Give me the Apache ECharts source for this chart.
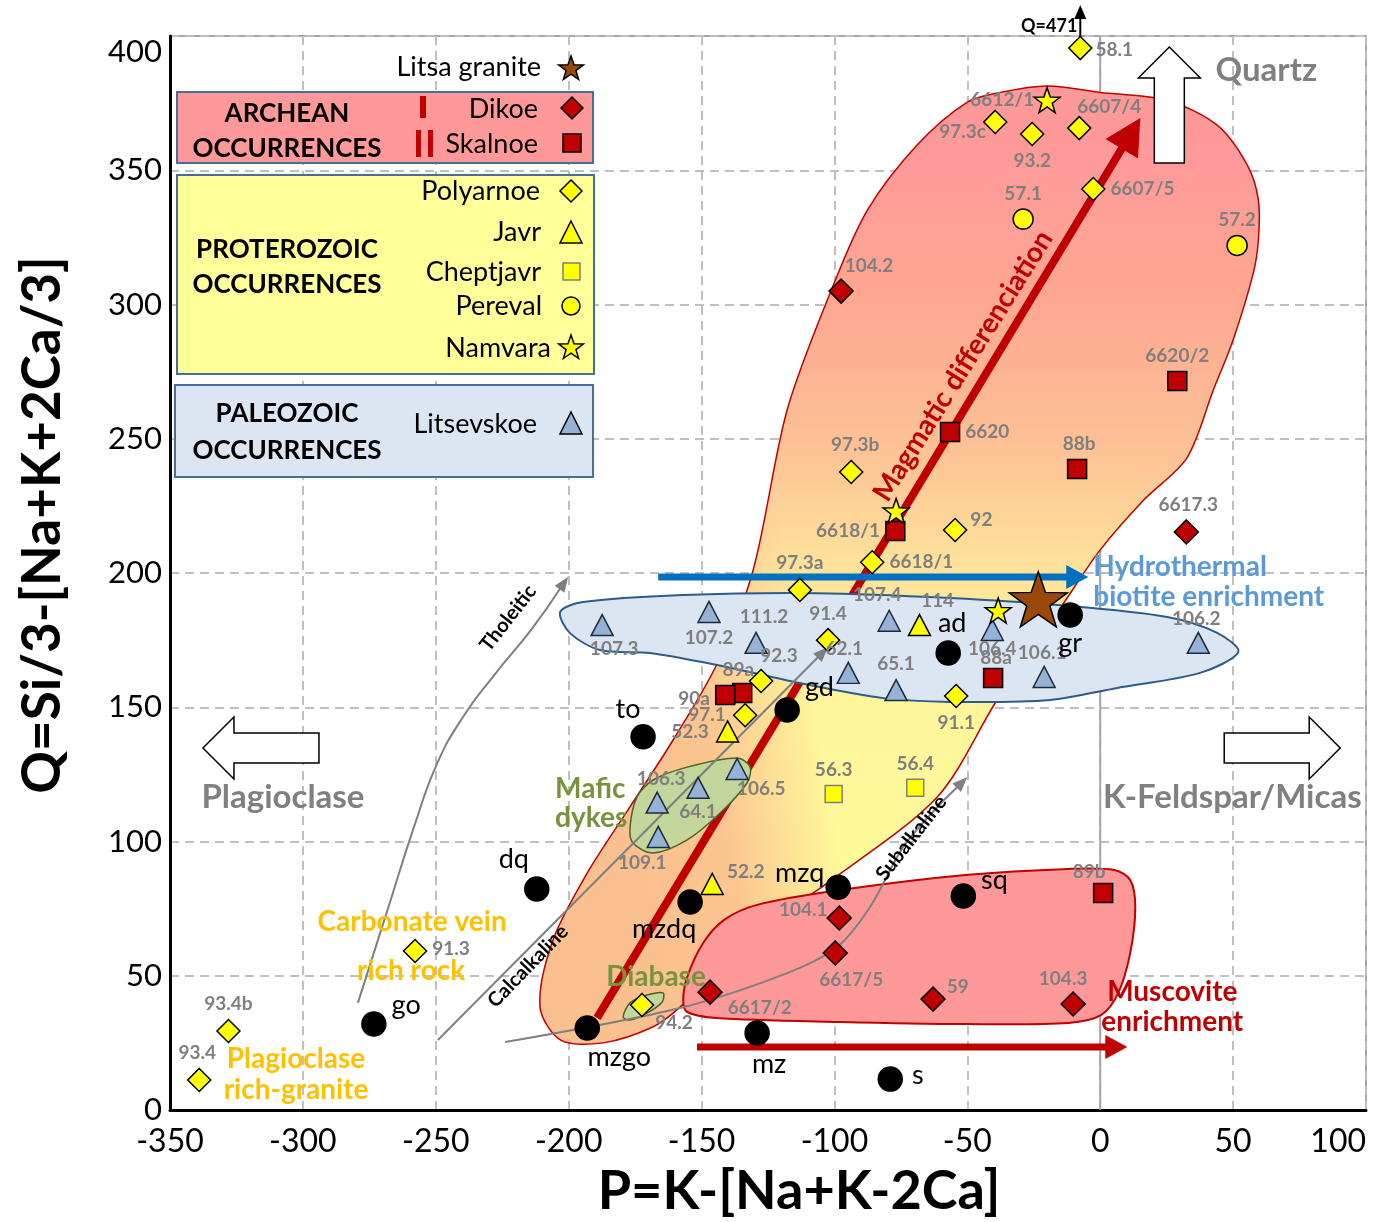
<!DOCTYPE html>
<html>
<head>
<meta charset="utf-8">
<script src="https://cdn.jsdelivr.net/npm/echarts@6/dist/echarts.min.js"></script>
<style>
  html, body { margin: 0; padding: 0; background: #fff; }
  #main { width: 1376px; height: 1222px; }
</style>
</head>
<body>
<div id="main"></div>
<script>
// ---- data: [P, Q, sample] ----
const polyarnoe = [
  [-7.5, 395.5, '58.1'], [-39.5, 368, '97.3c'], [-25.6, 363.5, '93.2'], [-7.9, 365.7, '6607/4'],
  [-2.6, 343, '6607/5'], [-85.8, 204, '6618/1'], [-113, 193.7, '97.3a'], [-93.7, 237.6, '97.3b'],
  [-54.6, 216, '92'], [-102.4, 175, '91.4'], [-127.6, 159.8, '92.3'], [-133.6, 147, '97.1'],
  [-54.2, 154.2, '91.1'], [-257.8, 59.2, '91.3'], [-328, 29.4, '93.4b'], [-339, 11.2, '93.4'],
  [-172.4, 39.1, '94.2']
];
const javr = [[-68, 180.6, '114'], [-140.2, 141, '52.3'], [-146, 84.2, '52.2']];
const cheptjavr = [[-100.3, 117.7, '56.3'], [-69.6, 120, '56.4']];
const pereval = [[-29, 331.8, '57.1'], [51.5, 322, '57.2']];
const namvara = [[-20, 376.1, '6612/1'], [-76.8, 223.1, ''], [-38.4, 186, '']];
const dikoe = [
  [-97.5, 305, '104.2'], [32.4, 215.3, '6617.3'], [-98.2, 71.5, '104.1'], [-99.7, 58.5, '6617/5'],
  [-146.8, 43.9, '6617/2'], [-62.9, 41.3, '59'], [-10.2, 39.5, '104.3']
];
const skalnoe = [
  [29, 271.5, '6620/2'], [-56.5, 252.5, '6620'], [-8.7, 238.7, '88b'], [-77.1, 215.6, '6618/1'],
  [-40.3, 160.9, '88a'], [-134.7, 155.3, '89a'], [-141.1, 154.6, '90a'], [1.1, 80.8, '89b']
];
const litsevskoe = [
  [-187.4, 180.6, '107.3'], [-147.2, 185.5, '107.2'], [-129.5, 174, '111.2'], [-94.8, 162.8, '62.1'],
  [-76.8, 156.4, '65.1'], [-79.4, 182.2, '107.4'], [-40.6, 178.8, '106.4'], [-21.1, 161.3, '106.1'],
  [36.9, 174, '106.2'], [-136.6, 127, '106.5'], [-166.7, 114.5, '106.3'], [-151.3, 120, '64.1'],
  [-166.3, 101.7, '109.1']
];
const litsaGranite = [[-23.3, 190.2, '']];
const rocks = [
  [-172, 139, 'to'], [-212, 82.3, 'dq'], [-273.3, 32, 'go'], [-193, 30.5, 'mzgo'],
  [-154.3, 77.5, 'mzdq'], [-98.6, 83, 'mzq'], [-129.1, 28.7, 'mz'], [-79, 11.5, 's'],
  [-51.5, 79.7, 'sq'], [-117.8, 149, 'gd'], [-57.2, 170.2, 'ad'], [-11.3, 184.4, 'gr']
];

// field outlines [P, Q]
const bigField = [
  [-20, 381.4], [0, 379], [25.2, 376], [44, 366.8], [55.3, 352], [59.5, 339], [59.5, 324],
  [57.6, 311.7], [50, 286.8], [42.5, 268], [32.7, 243], [16.2, 227], [0, 208.6], [-14.3, 188],
  [-38.8, 152.7], [-61.3, 116.6], [-102.7, 84.5], [-128, 67], [-158, 38.4], [-168.2, 31],
  [-187, 25], [-203, 26], [-210.8, 38.4], [-205.9, 63.3], [-193, 88.3], [-177, 112.8],
  [-160.7, 137.8], [-144, 166.5], [-130.6, 201], [-117.8, 260.7], [-100.5, 307], [-87.7, 335],
  [-68.9, 359.4], [-50, 375.4], [-37.6, 379]
];
const litsevField = [
  [-203.2, 185.5], [-194.6, 189.2], [-157, 191.8], [-106.5, 192.5], [-56.5, 190.7], [-15, 188],
  [25.2, 183.6], [44, 177.7], [52, 170.6], [37.6, 162.8], [6.4, 157.2], [-18.8, 152.7],
  [-56.5, 152], [-81.7, 153.4], [-112.9, 159], [-144.1, 165.7], [-169.4, 170.2], [-188.2, 171.3],
  [-199.5, 177.6]
];
const muscoField = [
  [-156.9, 41], [-155.4, 36.5], [-144.5, 34.3], [-97.9, 32.8], [-50.8, 32], [-12, 32.4],
  [0.4, 35.4], [6.8, 43.6], [11.3, 58.5], [13.2, 75.6], [11.3, 85.7], [5.3, 89.4], [-12, 89.8],
  [-50.8, 87.5], [-97.9, 81.9], [-129.1, 76.4], [-141.5, 70.8], [-149.4, 62.2], [-155.4, 49.5]
];
const maficField = [
  [-176.9, 105.4], [-174.3, 116.6], [-168.2, 122.9], [-155.4, 127.7], [-136.6, 131.1],
  [-131.7, 127.7], [-132.9, 121.8], [-143, 110.6], [-155.4, 100.6], [-168.2, 95.7], [-175.8, 99.4]
];
const diabaseField = [
  [-179.5, 34.6], [-176.9, 39.9], [-170.5, 42.8], [-164.5, 43.6], [-164.8, 40.2],
  [-170.5, 36.1], [-176.9, 33.5]
];

// trend arrows [P, Q]
const magmaticLine = [[-189.3, 34.3], [15.1, 369.5]];
const hydroLine = [[-166.3, 198.5], [-4.5, 198.5]];
const muscoLine = [[-151.7, 23.5], [10.2, 23.5]];
const tholeiticLine = [[-279.3, 39.9], [-268, 75], [-258, 106], [-249.5, 129], [-240, 146], [-228, 162], [-214, 179], [-200.2, 198.5]];
const calcLine = [[-249.2, 26.1], [-102.4, 172.4]];
const subLine = [[-223.9, 25.3], [-158.1, 38], [-117.8, 51], [-99, 60.7], [-86.6, 75.6], [-74.1, 98], [-61.3, 112.8], [-50, 124]];
const q471Line = [[-7.5, 395.5], [-7.5, 411.5]];

// big hollow arrows (tip)
const quartzTip = [26, 395.9];
const plagTip = [-337.6, 134.8];
const kfTip = [90.3, 134.8];

// annotations
const noteText = ['Magmatic differenciation', 'Tholeitic', 'Calcalkaline', 'Subalkaline', 'Mafic', 'dykes',
  'Diabase', 'Carbonate vein', 'rich rock', 'Plagioclase', 'rich-granite', 'Hydrothermal',
  'biotite enrichment', 'Muscovite', 'enrichment', 'Quartz', 'Plagioclase', 'K-Feldspar/Micas', 'Q=471'];
const noteAt = [[-51.6, 277.1], [-222.8, 183.2], [-215.3, 53.6], [-71.1, 101.3], [-205.1, 119.6], [-205.1, 108.7],
  [-185.9, 49.5], [-258.9, 70], [-259.3, 51.8], [-302.6, 19], [-302.6, 7.4], [-2.6, 202.2],
  [-2.6, 191], [2.6, 43.9], [0.4, 32.8], [62.5, 387.3], [-307.5, 116.6], [49.7, 116.6], [-19.2, 403.7]];

const xTicks = [-350, 100, 50];
const yTicks = [0, 400, 50];

// ---- label placement [position, dx, dy] ----
const polyLab = {
  '58.1': ['right', -2, 2], '97.3c': ['left', 8, 10], '93.2': ['bottom', 0, 0], '6607/4': ['top', 30, 6],
  '6607/5': ['right', 0, 0], '6618/1': ['right', 0, 0], '97.3a': ['top', 0, 0], '97.3b': ['top', 4, 0],
  '92': ['right', -2, -10], '91.4': ['top', 0, 0], '92.3': ['top', 18, 2], '97.1': ['left', -2, 0],
  '91.1': ['bottom', 0, 0], '91.3': ['right', 0, -2], '93.4b': ['top', 0, 0], '93.4': ['top', -2, 0],
  '94.2': ['right', -4, 18]
};
const javrLab = { '114': ['top', 18, 2], '52.3': ['left', -2, 0], '52.2': ['right', -2, -12] };
const namLab = { '6612/1': ['left', 6, 0] };
const dikoeLab = {
  '104.2': ['top', 28, 2], '6617.3': ['top', 2, 0], '104.1': ['left', 6, -8], '6617/5': ['bottom', 16, 0],
  '6617/2': ['right', 0, 16], '59': ['right', -4, -12], '104.3': ['top', -10, 2]
};
const skalLab = {
  '6620/2': ['top', 0, 0], '6620': ['right', 0, 0], '88b': ['top', 2, 0], '6618/1': ['left', 0, 0],
  '88a': ['top', 3, 5], '89a': ['top', -4, 2], '90a': ['left', 0, 4], '89b': ['top', -14, 4]
};
const litsLab = {
  '107.3': ['bottom', 12, -2], '107.2': ['bottom', 0, 0], '111.2': ['top', 8, 0], '62.1': ['top', -4, 2],
  '65.1': ['top', 0, 0], '107.4': ['top', -12, 0], '106.4': ['bottom', 0, -7], '106.1': ['top', -2, 2],
  '106.2': ['top', -2, 2], '106.5': ['bottom', 24, -6], '106.3': ['top', 4, 2], '64.1': ['bottom', 0, -2],
  '109.1': ['bottom', -16, 0]
};
const rockLab = {
  'to': ['top', -15, 4], 'dq': ['top', -23, 2], 'go': ['right', 0, -19], 'mzgo': ['bottom', 32, -2],
  'mzdq': ['bottom', -26, -4], 'mzq': ['left', 4, -14], 'mz': ['bottom', 12, 0], 's': ['right', 4, -4],
  'sq': ['right', 0, -16], 'gd': ['right', 0, -23], 'ad': ['top', 4, 2], 'gr': ['bottom', 0, -3]
};

const FONT = 'Lato, "DejaVu Sans", sans-serif';
const starPath = 'path://M50,0L61.76,33.82L97.55,34.55L69.02,56.18L79.39,90.45L50,70L20.61,90.45L30.98,56.18L2.45,34.55L38.24,33.82Z';

function items(arr, place) {
  return arr.map(function (d) {
    const p = place[d[2]] || ['top', 0, 0];
    return { value: [d[0], d[1]], name: d[2], label: { position: p[0], offset: [p[1], p[2]] } };
  });
}

function scatter(name, arr, place, symbol, size, fill, border, z) {
  return {
    name: name, type: 'scatter', z: z || 6, symbol: symbol, symbolSize: size,
    itemStyle: { color: fill, borderColor: border || '#000', borderWidth: 1.5, opacity: 1 },
    label: { show: true, formatter: '{b}', color: '#7f7f7f', fontWeight: 'bold', fontSize: 19, fontFamily: FONT },
    data: items(arr, place)
  };
}

function field(verts, style, z) {
  return {
    type: 'custom', z: z, silent: true, clip: false,
    data: [[verts[0][0], verts[0][1]]],
    renderItem: function (params, api) {
      const pts = verts.map(function (v) { return api.coord(v); });
      return { type: 'polygon', shape: { points: pts, smooth: 0.3 }, style: style };
    }
  };
}

function arrow(pts, o, z) {
  return {
    type: 'custom', z: z, silent: true, clip: false,
    data: [[pts[0][0], pts[0][1]]],
    renderItem: function (params, api) {
      const p = pts.map(function (v) { return api.coord(v); });
      const tip = p[p.length - 1], prev = p[p.length - 2];
      const dx = tip[0] - prev[0], dy = tip[1] - prev[1], len = Math.hypot(dx, dy);
      const ux = dx / len, uy = dy / len;
      const bx = tip[0] - ux * o.head, by = tip[1] - uy * o.head;
      const line = p.slice(0, -1).concat([[bx + ux * 2, by + uy * 2]]);
      const head = [tip, [bx - uy * o.hw, by + ux * o.hw], [bx + uy * o.hw, by - ux * o.hw]];
      return {
        type: 'group', children: [
          { type: 'polyline', shape: { points: line, smooth: o.smooth || 0 }, style: { stroke: o.color, lineWidth: o.width, fill: null } },
          { type: 'polygon', shape: { points: head }, style: { fill: o.color } }
        ]
      };
    }
  };
}

// hollow block arrow pointing along (ux, uy)
function block(tip, ux, uy) {
  const L = 116, hl = 31, hh = 31, sh = 15;
  return {
    type: 'custom', z: 5, silent: true, clip: false,
    data: [[tip[0], tip[1]]],
    renderItem: function (params, api) {
      const t = api.coord(tip);
      const nx = -uy, ny = ux;
      function pt(a, b) { return [t[0] - ux * a + nx * b, t[1] - uy * a + ny * b]; }
      return {
        type: 'polygon',
        shape: { points: [pt(0, 0), pt(hl, hh), pt(hl, sh), pt(L, sh), pt(L, -sh), pt(hl, -sh), pt(hl, -hh)] },
        style: { fill: '#fff', stroke: '#000', lineWidth: 1.5 }
      };
    }
  };
}

// [color, size, align, rotation, weight]
const noteStyle = [
  ['#c00000', 28, 'center', 58, 'bold'], ['#000', 20, 'center', 52, 'bold'], ['#000', 20, 'center', 46, 'bold'],
  ['#000', 20, 'center', 52, 'bold'], ['#77933c', 28, 'left', 0, 'bold'], ['#77933c', 28, 'left', 0, 'bold'],
  ['#77933c', 28, 'left', 0, 'bold'], ['#ffc000', 28, 'center', 0, 'bold'], ['#ffc000', 28, 'center', 0, 'bold'],
  ['#ffc000', 28, 'center', 0, 'bold'], ['#ffc000', 28, 'center', 0, 'bold'], ['#5b9bd5', 28, 'left', 0, 'bold'],
  ['#5b9bd5', 28, 'left', 0, 'bold'], ['#c00000', 28, 'left', 0, 'bold'], ['#c00000', 28, 'left', 0, 'bold'],
  ['#808080', 33, 'center', 0, 'bold'], ['#808080', 33, 'center', 0, 'bold'], ['#808080', 33, 'center', 0, 'bold'],
  ['#000', 18, 'center', 0, 'bold']
];

const notes = {
  type: 'custom', z: 8, silent: true, clip: false,
  data: noteAt,
  renderItem: function (params, api) {
    const i = params.dataIndex, s = noteStyle[i];
    const c = api.coord(noteAt[i]);
    return {
      type: 'text', x: c[0], y: c[1], rotation: s[3] * Math.PI / 180,
      style: {
        text: noteText[i], fill: s[0], font: s[4] + ' ' + s[1] + 'px ' + FONT,
        align: s[2], verticalAlign: 'middle'
      }
    };
  }
};

// ---- legend boxes and axis titles (graphic) ----
function diamondPts(cx, cy, r) { return [[cx, cy - r], [cx + r, cy], [cx, cy + r], [cx - r, cy]]; }
function triPts(cx, cy, w, h) { return [[cx, cy - h / 2], [cx + w / 2, cy + h / 2], [cx - w / 2, cy + h / 2]]; }
function starPts(cx, cy, R) {
  const out = [];
  for (let i = 0; i < 10; i++) {
    const a = (-90 + i * 36) * Math.PI / 180, r = i % 2 ? R * 0.4 : R;
    out.push([cx + r * Math.cos(a), cy + r * Math.sin(a)]);
  }
  return out;
}
function txt(x, y, s, align, bold, size) {
  return {
    type: 'text', x: x, y: y, z: 20,
    style: { text: s, fill: '#000', font: (bold ? 'bold ' : '') + (size || 27) + 'px ' + FONT, align: align, verticalAlign: 'middle' }
  };
}
const stroke = { stroke: '#000', lineWidth: 1.5 };
const boxBorder = '#4a6e9a';
const legend = [
  txt(541, 67, 'Litsa granite', 'right'),
  { type: 'polygon', z: 20, shape: { points: starPts(571, 69, 13) }, style: Object.assign({ fill: '#984807' }, stroke) },
  { type: 'rect', z: 19, shape: { x: 177, y: 92, width: 416, height: 71 }, style: { fill: '#ff9999', stroke: boxBorder, lineWidth: 2 } },
  txt(287, 114, 'ARCHEAN', 'center', true, 26), txt(287, 149, 'OCCURRENCES', 'center', true, 26),
  { type: 'rect', z: 20, shape: { x: 420, y: 96, width: 6, height: 22 }, style: { fill: '#c00000' } },
  { type: 'rect', z: 20, shape: { x: 416, y: 130, width: 5, height: 27 }, style: { fill: '#c00000' } },
  { type: 'rect', z: 20, shape: { x: 428, y: 130, width: 5, height: 27 }, style: { fill: '#c00000' } },
  txt(538, 109, 'Dikoe', 'right'), txt(538, 144, 'Skalnoe', 'right'),
  { type: 'polygon', z: 20, shape: { points: diamondPts(572, 108, 11) }, style: Object.assign({ fill: '#c00000' }, stroke) },
  { type: 'rect', z: 20, shape: { x: 563, y: 134, width: 18, height: 18 }, style: Object.assign({ fill: '#c00000' }, stroke) },
  { type: 'rect', z: 19, shape: { x: 177, y: 175, width: 417, height: 199 }, style: { fill: '#ffff99', stroke: boxBorder, lineWidth: 2 } },
  txt(287, 250, 'PROTEROZOIC', 'center', true, 26), txt(287, 285, 'OCCURRENCES', 'center', true, 26),
  txt(540, 191, 'Polyarnoe', 'right'), txt(541, 232, 'Javr', 'right'), txt(541, 272, 'Cheptjavr', 'right'),
  txt(542, 306, 'Pereval', 'right'), txt(551, 348, 'Namvara', 'right'),
  { type: 'polygon', z: 20, shape: { points: diamondPts(571, 191, 11) }, style: Object.assign({ fill: '#ffff00' }, stroke) },
  { type: 'polygon', z: 20, shape: { points: triPts(571, 232, 22, 22) }, style: Object.assign({ fill: '#ffff00' }, stroke) },
  { type: 'rect', z: 20, shape: { x: 563, y: 263, width: 17, height: 17 }, style: { fill: '#ffff00', stroke: '#7f7f7f', lineWidth: 1.5 } },
  { type: 'circle', z: 20, shape: { cx: 571, cy: 306, r: 9 }, style: Object.assign({ fill: '#ffff00' }, stroke) },
  { type: 'polygon', z: 20, shape: { points: starPts(571, 348, 13) }, style: Object.assign({ fill: '#ffff00' }, stroke) },
  { type: 'rect', z: 19, shape: { x: 175, y: 385, width: 418, height: 92 }, style: { fill: '#dce6f2', stroke: boxBorder, lineWidth: 2 } },
  txt(287, 414, 'PALEOZOIC', 'center', true, 26), txt(287, 451, 'OCCURRENCES', 'center', true, 26),
  txt(537, 424, 'Litsevskoe', 'right'),
  { type: 'polygon', z: 20, shape: { points: triPts(571, 423, 22, 22) }, style: Object.assign({ fill: '#95b3d7' }, stroke) },
  { type: 'text', x: 43, y: 525, rotation: Math.PI / 2, z: 20,
    style: { text: 'Q=Si/3-[Na+K+2Ca/3]', fill: '#000', font: 'bold 53px ' + FONT, align: 'center', verticalAlign: 'middle' } },
  { type: 'text', x: 799, y: 1192, z: 20,
    style: { text: 'P=K-[Na+K-2Ca]', fill: '#000', font: 'bold 54px ' + FONT, align: 'center', verticalAlign: 'middle' } }
];

const chart = echarts.init(document.getElementById('main'));
chart.setOption({
  animation: false,
  backgroundColor: '#fff',
  grid: { left: 170, right: 10, top: 36, bottom: 112, outerBoundsMode: 'none', containLabel: false,
    show: true, borderColor: '#a6a6a6', borderWidth: 2 },
  xAxis: {
    type: 'value', min: xTicks[0], max: xTicks[1], interval: xTicks[2],
    axisLine: { show: true, onZero: false, lineStyle: { color: '#000', width: 3 } },
    axisTick: { show: false },
    axisLabel: { fontSize: 32, color: '#000', fontFamily: FONT, margin: 16, alignMaxLabel: 'right' },
    splitLine: { show: true, lineStyle: { color: '#c0c0c0', width: 2, type: [9, 6] } }
  },
  yAxis: {
    type: 'value', min: yTicks[0], max: yTicks[1], interval: yTicks[2],
    axisLine: { show: true, onZero: false, lineStyle: { color: '#000', width: 3 } },
    axisTick: { show: false },
    axisLabel: { fontSize: 31, color: '#000', fontFamily: FONT, margin: 8, verticalAlignMaxLabel: 'top' },
    splitLine: { show: true, lineStyle: { color: '#c0c0c0', width: 2, type: [9, 6] } }
  },
  graphic: legend,
  series: [
    { type: 'line', z: 1, silent: true, symbol: 'none', data: [[0, yTicks[0]], [0, yTicks[1]]], lineStyle: { color: '#a6a6a6', width: 2 } },
    field(bigField, {
      fill: new echarts.graphic.LinearGradient(0, 0, 0, 1, [
        { offset: 0, color: '#ff9898' }, { offset: 0.08, color: '#ff9a9a' }, { offset: 0.22, color: '#fea791' },
        { offset: 0.38, color: '#fdc295' }, { offset: 0.5, color: '#fee29b' }, { offset: 0.64, color: '#fff59b' },
        { offset: 1, color: '#ffff99' }
      ])
    }, 2),
    field(bigField, {
      fill: new echarts.graphic.LinearGradient(0.045, 0.411, 0.319, 0.375, [
        { offset: 0, color: 'rgba(251,192,143,1)' }, { offset: 0.45, color: 'rgba(251,192,143,0.9)' },
        { offset: 1, color: 'rgba(251,192,143,0)' }
      ]),
      stroke: '#c00000', lineWidth: 1.5
    }, 2),
    arrow(magmaticLine, { color: '#c00000', width: 8, head: 36, hw: 19 }, 3),
    field(litsevField, { fill: '#dce6f2', stroke: '#2e5c8a', lineWidth: 2 }, 4),
    field(muscoField, { fill: '#ff9999', stroke: '#c00000', lineWidth: 2 }, 4),
    field(maficField, { fill: '#c3d69b', stroke: '#4f6228', lineWidth: 1.5 }, 4),
    field(diabaseField, { fill: '#c3d69b', stroke: '#4f6228', lineWidth: 1.5 }, 4),
    arrow(hydroLine, { color: '#0070c0', width: 7, head: 22, hw: 12 }, 5),
    arrow(muscoLine, { color: '#c00000', width: 7, head: 22, hw: 12 }, 5),
    arrow(tholeiticLine, { color: '#7f7f7f', width: 2, head: 15, hw: 6, smooth: 0.5 }, 5),
    arrow(calcLine, { color: '#7f7f7f', width: 2, head: 15, hw: 6 }, 5),
    arrow(subLine, { color: '#7f7f7f', width: 2, head: 15, hw: 6, smooth: 0.3 }, 5),
    arrow(q471Line, { color: '#000', width: 2, head: 14, hw: 6 }, 5),
    block(quartzTip, 0, -1),
    block(plagTip, -1, 0),
    block(kfTip, 1, 0),
    scatter('Dikoe', dikoe, dikoeLab, 'diamond', 24, '#c00000'),
    scatter('Skalnoe', skalnoe, skalLab, 'rect', 19, '#c00000'),
    scatter('Litsevskoe', litsevskoe, litsLab, 'triangle', [22, 21], '#95b3d7', '#1f2a3a'),
    scatter('Polyarnoe', polyarnoe, polyLab, 'diamond', 23, '#ffff00'),
    scatter('Javr', javr, javrLab, 'triangle', [22, 21], '#ffff00'),
    scatter('Cheptjavr', cheptjavr, {}, 'rect', 17, '#ffff00', '#7f7f7f'),
    scatter('Pereval', pereval, {}, 'circle', 20, '#ffff00'),
    scatter('Namvara', namvara, namLab, starPath, [26, 25], '#ffff00', '#000', 7),
    scatter('Litsa granite', litsaGranite, {}, starPath, [58, 55], '#984807', '#000', 7),
    Object.assign(scatter('Rocks', rocks, rockLab, 'circle', 24, '#000'), {
      label: { show: true, formatter: '{b}', color: '#000', fontSize: 27, fontFamily: FONT }
    }),
    notes
  ]
});
</script>
</body>
</html>
